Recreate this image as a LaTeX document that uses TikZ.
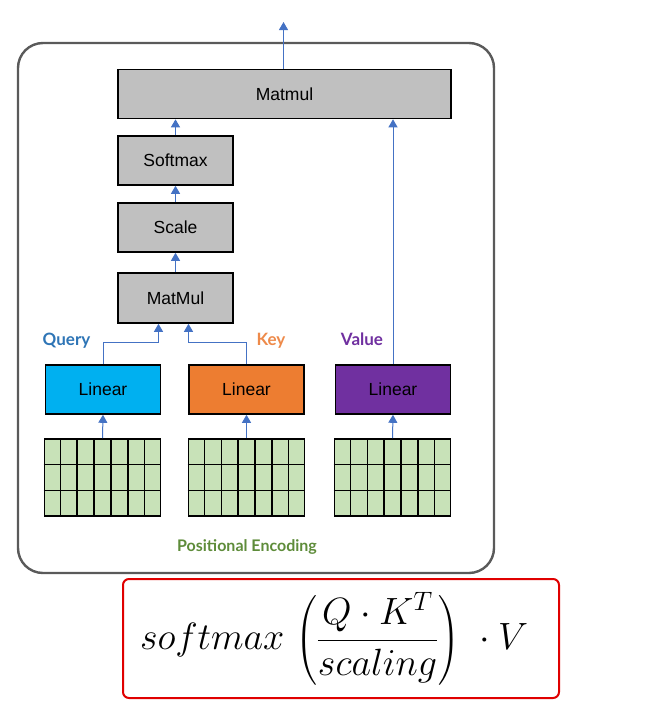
\RequirePackage{fix-cm}
\documentclass[tikz,border=0pt]{standalone}
\usepackage{amsmath}
\usepackage{fontspec}
\setmainfont{Liberation Sans}
\newfontfamily\etiqfont{Lato}
\usepackage{tikz}
\usetikzlibrary{arrows.meta,calc}
\definecolor{fondgris}{HTML}{C0C0C0}
\definecolor{bleufleche}{HTML}{4472C4}
\definecolor{cyanlin}{HTML}{00B0F0}
\definecolor{orangelin}{HTML}{ED7D31}
\definecolor{violetlin}{HTML}{7030A0}
\definecolor{bleuq}{HTML}{2E75B6}
\definecolor{orangek}{HTML}{EE8A4A}
\definecolor{vertgrille}{HTML}{C8E2B8}
\definecolor{vertpe}{HTML}{5E8C3A}
\definecolor{cadre}{HTML}{5A5A5A}
\definecolor{rougeeq}{HTML}{E00000}
\tikzset{
Boite/.style={
 draw=black, 
 line width=1.6pt, 
 fill=fondgris, 
 minimum width=115pt, 
 minimum height=49pt, 
 inner sep=0pt, 
 font=\fontsize{17.5}{20}\selectfont
 },
LinBoite/.style={
 Boite, 
 fill=#1
 },
Grille/.style={
 draw=black, 
 line width=1.6pt, 
 fill=vertgrille, 
 minimum width=116pt, 
 minimum height=77pt, 
 inner sep=0pt
 },
Fleche/.style={
 draw=bleufleche, 
 line width=1pt, 
 -{Triangle[width=9pt,length=8pt]}
 },
Etiquette/.style={
 text=#1, 
 inner sep=0pt, 
 font=\etiqfont\bfseries\fontsize{17}{20}\selectfont
 }
}
\begin{document}
\begin{tikzpicture}[x=1pt,y=-1pt]
\useasboundingbox (0,0) rectangle (669,704);
\fill[white] (0,0) rectangle (669,704);
\draw[cadre,line width=2.4pt,rounded corners=25pt] (18,43) rectangle (494,573);
\node[Boite,minimum width=333pt] (top) at (284.5,94) {Matmul};
\node[Boite] (sm) at (175.5,160.5) {Softmax};
\node[Boite] (sc) at (175.5,227.5) {Scale};
\node[Boite,minimum height=50pt] (mm) at (175.5,298) {MatMul};
\node[LinBoite=cyanlin] (lq) at (103,389.5) {Linear};
\node[LinBoite=orangelin] (lk) at (246.5,389.5) {Linear};
\node[LinBoite=violetlin] (lv) at (393,389.5) {Linear};
\node[Grille] (gq) at (102.5,477.5) {};
\node[Grille] (gk) at (246.5,477.5) {};
\node[Grille] (gv) at (392.5,477.5) {};
\foreach \g in {gq,gk,gv}{
 \foreach \i in {1,...,6}
  \draw[line width=1.6pt] ($(\g.north west)!\i/7!(\g.north east)$) -- ($(\g.south west)!\i/7!(\g.south east)$);
 \foreach \j in {1,2}
  \draw[line width=1.6pt] ($(\g.north west)!\j/3!(\g.south west)$) -- ($(\g.north east)!\j/3!(\g.south east)$);
}
\node[Etiquette=bleuq] (q) at (66.5,341) {Query};
\node[Etiquette=orangek] (k) at (271,341) {Key};
\node[Etiquette=violetlin] (v) at (362,339) {Value};
\node[Etiquette=vertpe,font=\etiqfont\bfseries\fontsize{16}{19}\selectfont] (pe) at (247,547) {Positional Encoding};
\coordinate (sortie) at (283.5,22);
\draw[Fleche] (top.north -| sortie) -- (sortie);
\draw[Fleche] (sm.north) -- (sm.north |- top.south);
\draw[Fleche] (sc.north) -- (sc.south |- sm.south);
\draw[Fleche] (mm.north) -- (mm.south |- sc.south);
\draw[Fleche] (lq.north) -- ++(0,-22) -| ([xshift=-17pt]mm.south);
\draw[Fleche] (lk.north) -- ++(0,-22) -| ([xshift=13pt]mm.south);
\draw[Fleche] (lv.north) -- (lv.north |- top.south);
\foreach \g/\l in {gq/lq,gk/lk,gv/lv}
 \draw[Fleche] (\g.north) -- (\l.south);
\draw[rougeeq,line width=2pt,rounded corners=6pt,fill=white] (123,579) rectangle (559,698);
\node (eq) at (334,639) {\fontsize{38}{44}\selectfont$softmax\;\bigg(\dfrac{Q\cdot K^T}{scaling}\bigg)\;\cdot V$};
\end{tikzpicture}
\end{document}
